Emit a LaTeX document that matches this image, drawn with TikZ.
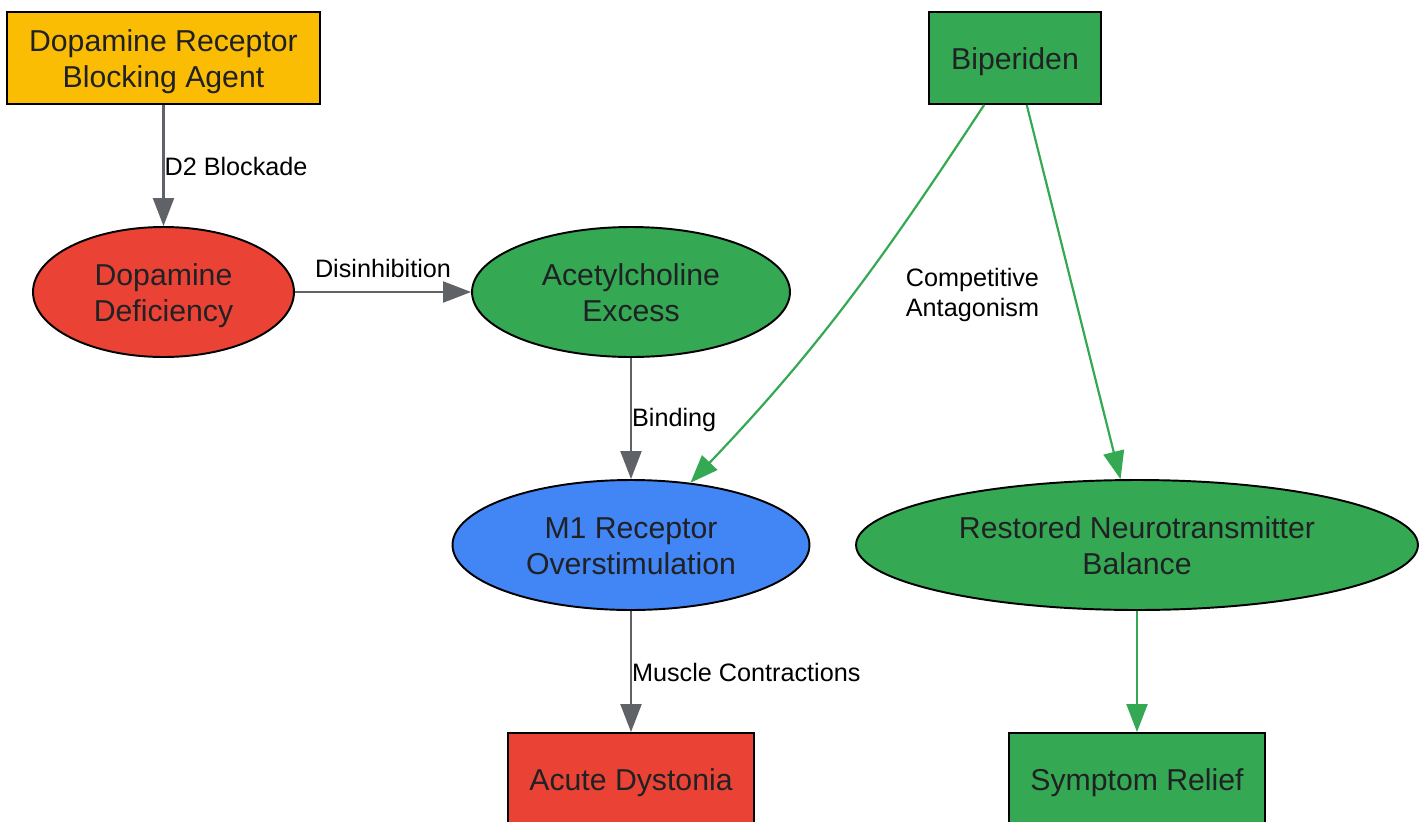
\documentclass[tikz,border=0pt]{standalone}
\usepackage{fontspec}
\setmainfont{Liberation Sans}
\usepackage{tikz}
\usetikzlibrary{arrows.meta, shapes.geometric}
\definecolor{gyellow}{HTML}{FBBC04}
\definecolor{gred}{HTML}{EA4335}
\definecolor{ggreen}{HTML}{34A853}
\definecolor{gblue}{HTML}{4285F4}
\definecolor{edgegray}{HTML}{5F6368}
\definecolor{txtgray}{HTML}{202124}

\begin{document}
\begin{tikzpicture}[x=0.02cm, y=-0.02cm,
  box/.style={draw, line width=1.1pt, rectangle, minimum height=1.84cm, inner sep=0pt, text height=16.5pt, text depth=3.6pt, text=txtgray, font=\fontsize{17.2}{20.5}\selectfont, align=center},
  oval/.style={draw, line width=1.1pt, ellipse, minimum height=2.6cm, inner sep=0pt, text height=16.5pt, text depth=3.6pt, text=txtgray, font=\fontsize{17.2}{20.5}\selectfont, align=center},
  twolines/.style={text height=37pt, text depth=3.6pt},
  link/.style={-{Triangle[length=0.56cm, width=0.42cm]}, line width=1.25pt, color=edgegray},
  cure/.style={link, color=ggreen},
  lbl/.style={font=\fontsize{14.35}{17}\selectfont, inner sep=0pt, text=black, align=left, yshift=-0.02cm}]
\useasboundingbox (0,0) rectangle (1428,822);
% Nodes
\node[box, twolines, fill=gyellow, minimum width=6.26cm] (agent) at (163.5,58) {Dopamine Receptor\\Blocking Agent};
\node[box, fill=ggreen, minimum width=3.44cm] (biperiden) at (1015,58) {Biperiden};
\node[oval, twolines, fill=gred, minimum width=5.22cm] (deficiency) at (163.5,292) {Dopamine\\Deficiency};
\node[oval, twolines, fill=ggreen, minimum width=6.36cm] (excess) at (631,292) {Acetylcholine\\Excess};
\node[oval, twolines, fill=gblue, minimum width=7.14cm] (m1) at (631,545) {M1 Receptor\\Overstimulation};
\node[oval, twolines, fill=ggreen, minimum width=11.24cm] (balance) at (1137,545) {Restored Neurotransmitter\\Balance};
\node[box, fill=gred, minimum width=4.92cm] (dystonia) at (631,779) {Acute Dystonia};
\node[box, fill=ggreen, minimum width=5.12cm] (relief) at (1137,779) {Symptom Relief};
% Arrows
\draw[link] (agent) -- node[lbl, anchor=west] {D2 Blockade} (deficiency);
\draw[link] (deficiency) -- node[lbl, above=0.28cm] {Disinhibition} (excess);
\draw[link] (excess) -- node[lbl, anchor=west] {Binding} (m1);
\draw[link] (m1) -- node[lbl, anchor=west] {Muscle Contractions} (dystonia);
\draw[cure] (biperiden) .. controls (886,254) and (822,345) .. node[lbl, anchor=west, xshift=1.1cm, yshift=0.08cm] {Competitive\\Antagonism} (m1);
\draw[cure] (biperiden) -- (balance);
\draw[cure] (balance) -- (relief);
\end{tikzpicture}
\end{document}
